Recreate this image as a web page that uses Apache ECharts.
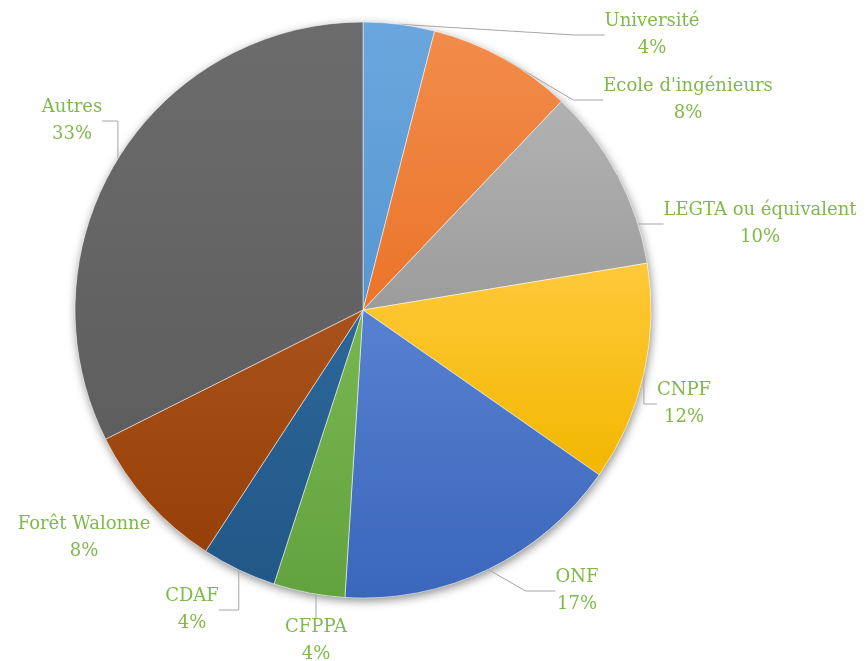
<!DOCTYPE html>
<html>
<head>
<meta charset="utf-8">
<script src="https://cdn.jsdelivr.net/npm/echarts@6/dist/echarts.min.js"></script>
<style>
  html, body { margin: 0; padding: 0; background: #fff; }
  .main { width: 867px; height: 661px; }
</style>
</head>
<body>
<div class="main"></div>
<script>
// Données (parts en %)
let categories = ['Université', "Ecole d'ingénieurs", 'LEGTA ou équivalent', 'CNPF', 'ONF', 'CFPPA', 'CDAF', 'Forêt Walonne', 'Autres'];
let shares = [4.0, 8.1, 10.3, 12.3, 16.3, 4.0, 4.2, 8.4, 32.4];
let percentLabels = ['4%', '8%', '10%', '12%', '17%', '4%', '4%', '8%', '33%'];

// couleurs (haut, bas) de chaque part
let colorsTop = ['#6BA7DE', '#F28C4B', '#B2B2B2', '#FFC93A', '#5781D0', '#78B650', '#2C6699', '#A9531A', '#6C6C6C'];
let colorsBottom = ['#5696D2', '#EA7429', '#9C9C9C', '#F2B700', '#3A66BC', '#63A33F', '#225888', '#963F08', '#5E5E5E'];

// position des étiquettes
let labelSpots = [[652, 35], [688, 100], [760, 224], [684, 404], [577, 591], [316, 641], [192, 610], [84, 538], [72, 121]];

let main = document.querySelector('.main');
let myChart = echarts.init(main, null, { renderer: 'canvas' });

let seriesData = categories.map(function (name, i) {
    return {
        name: name,
        value: shares[i],
        labelLine: { show: name !== 'Forêt Walonne' },
        itemStyle: {
            color: {
                type: 'linear', x: 0, y: 0, x2: 0, y2: 1,
                colorStops: [
                    { offset: 0, color: colorsTop[i] },
                    { offset: 1, color: colorsBottom[i] }
                ]
            }
        }
    };
});

let textStyle = { fontFamily: 'DejaVu Serif', fontSize: 18, color: '#80B94A', lineHeight: 27, align: 'center' };

let options = {
    backgroundColor: '#ffffff',
    animation: false,
    series: [
        {
            // ombre sous le camembert
            type: 'pie',
            silent: true,
            center: [363, 310],
            radius: 288,
            z: 1,
            label: { show: false },
            labelLine: { show: false },
            itemStyle: {
                color: '#ffffff',
                shadowBlur: 10,
                shadowColor: 'rgba(0, 0, 0, 0.45)',
                shadowOffsetX: 1,
                shadowOffsetY: 3
            },
            data: [1]
        },
        {
            name: 'Formation',
            type: 'pie',
            center: [363, 310],
            radius: 288,
            startAngle: 90,
            clockwise: true,
            z: 2,
            itemStyle: {
                borderColor: 'rgba(255, 255, 255, 0.5)',
                borderWidth: 1
            },
            label: {
                show: true,
                position: 'outside',
                overflow: 'none',
                formatter: function (params) {
                    return '{n|' + params.name + '}\n{p|' + percentLabels[params.dataIndex] + '}';
                },
                rich: { n: textStyle, p: textStyle }
            },
            labelLine: {
                show: true,
                lineStyle: { color: '#A6A6A6', width: 1 }
            },
            labelLayout: function (params) {
                let spot = labelSpots[params.dataIndex];
                return {
                    x: spot[0],
                    y: spot[1],
                    align: 'center',
                    verticalAlign: 'middle'
                };
            },
            data: seriesData
        }
    ]
};

myChart.setOption(options);
</script>
</body>
</html>
